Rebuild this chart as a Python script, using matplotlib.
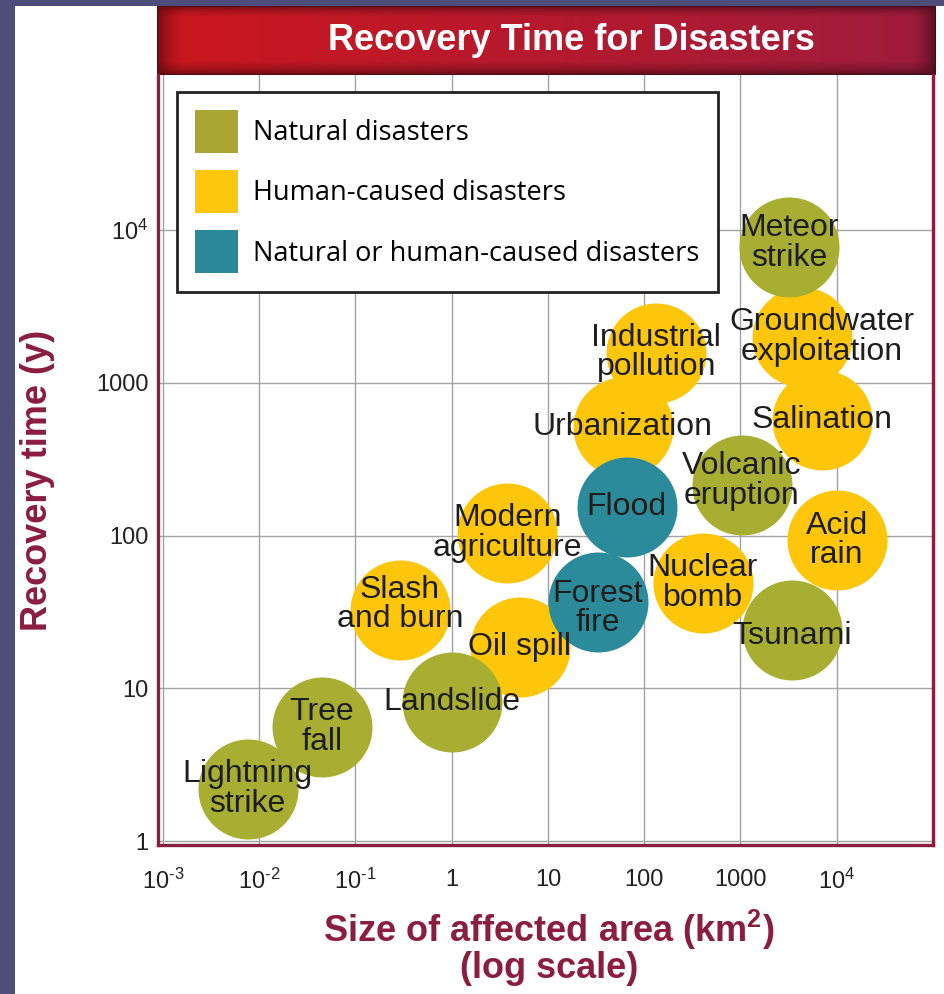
import numpy as np
import matplotlib.pyplot as plt
from matplotlib.patches import Patch, Rectangle

plt.rcParams['font.family'] = ['Liberation Sans', 'DejaVu Sans']
plt.rcParams['mathtext.default'] = 'regular'

# data (km^2, years)
names = ['Lightning\nstrike', 'Tree\nfall', 'Landslide', 'Slash\nand burn', 'Oil spill',
         'Modern\nagriculture', 'Forest\nfire', 'Flood', 'Urbanization', 'Industrial\npollution',
         'Nuclear\nbomb', 'Volcanic\neruption', 'Tsunami', 'Acid\nrain', 'Salination',
         'Groundwater\nexploitation', 'Meteor\nstrike']
area = [0.0076, 0.045, 1.0, 0.29, 5.1, 3.8, 33, 66, 60, 134,
        405, 1030, 3460, 10000, 7100, 4400, 3200]
years = [2.2, 5.6, 8.1, 32.6, 18.7, 104, 37, 154, 513, 1580,
         49, 214, 24, 93, 570, 2000, 7760]
kind = ['natural', 'natural', 'natural', 'human', 'human', 'human', 'both', 'both', 'human', 'human',
        'human', 'natural', 'natural', 'human', 'human', 'human', 'natural']

kinds = ['natural', 'human', 'both']
kind_labels = ['Natural disasters', 'Human-caused disasters', 'Natural or human-caused disasters']

x_ticks = [1e-3, 1e-2, 1e-1, 1, 10, 100, 1000, 1e4]
x_tick_labels = ['$10^{\u20103}$', '$10^{\u20102}$', '$10^{\u20101}$', '1', '10', '100', '1000', '$10^{4}$']
y_ticks = [1, 10, 100, 1000, 1e4]
y_tick_labels = ['1', '10', '100', '1000', '$10^{4}$']

colors = {'natural': '#a8ae32', 'human': '#fdc60b', 'both': '#2b8b9b'}
legend_colors = {'natural': '#aaa634', 'human': '#fcc70c', 'both': '#2a8898'}
maroon = '#8b1d3f'

# label nudges in points (x, y)
nudge = {'Groundwater\nexploitation': (14, 0), 'Forest\nfire': (0, -5), 'Tsunami': (0, -4),
         'Slash\nand burn': (0, 4), 'Volcanic\neruption': (0, 3), 'Meteor\nstrike': (0, 3)}

W, H = 945, 994
fig = plt.figure(figsize=(W / 100, H / 100), dpi=100)
fig.patch.set_facecolor('#4c4d7b')
fig.add_artist(Rectangle((15 / W, 0), (W - 15) / W, (H - 6) / H, transform=fig.transFigure,
                         facecolor='white', edgecolor='none', zorder=0))

# title banner with a dark vignette
bax = fig.add_axes([157 / W, 1 - 75 / H, (936 - 157) / W, (75 - 6) / H])
nx, ny = 780, 69
px = np.arange(nx)
py = np.arange(ny)
ex = np.clip(np.minimum(px / 25.0, (nx - 1 - px) / 25.0), 0, 1)
ey = np.clip(np.minimum(py / 10.0, (ny - 1 - py) / 14.0), 0, 1)
shade = 0.45 + 0.55 * np.sqrt(np.outer(ey, ex))
left_c = np.array([0.80, 0.09, 0.12])
right_c = np.array([0.62, 0.11, 0.24])
t = (px / (nx - 1))[None, :, None]
base = left_c * (1 - t) + right_c * t
img = base * shade[:, :, None]
bax.imshow(img, aspect='auto', interpolation='bilinear')
bax.set_axis_off()
bax.text(0.532, 0.5, 'Recovery Time for Disasters', transform=bax.transAxes, ha='center',
         va='center', color='white', fontsize=26, fontweight='bold')

ax = fig.add_axes([158 / W, 1 - 845 / H, 775 / W, 770 / H])
ax.set_xscale('log')
ax.set_yscale('log')
ax.set_xlim(10 ** -3.05, 1e5)
ax.set_ylim(10 ** -0.026, 10 ** 5.016)
ax.minorticks_off()
ax.set_xticks(x_ticks)
ax.set_xticklabels(x_tick_labels)
ax.set_yticks(y_ticks)
ax.set_yticklabels(y_tick_labels)
ax.tick_params(length=0, labelsize=17, labelcolor='#222222')
ax.tick_params(axis='x', pad=17)
ax.tick_params(axis='y', pad=7)
ax.grid(True, color='#a3a3a3', lw=1.0)
ax.set_axisbelow(True)
for side in ['left', 'bottom', 'right']:
    ax.spines[side].set_color(maroon)
    ax.spines[side].set_linewidth(2.4)
ax.spines['top'].set_visible(False)

area_a = np.array(area)
years_a = np.array(years)
kind_a = np.array(kind)
for i, k in enumerate(['human', 'both', 'natural']):
    m = kind_a == k
    ax.scatter(area_a[m], years_a[m], s=5184, color=colors[k], linewidths=0, zorder=2 + i)

for n, xv, yv in zip(names, area, years):
    dx, dy = nudge.get(n, (0, 0))
    ax.annotate(n, (xv, yv), xytext=(dx, dy), textcoords='offset points', ha='center',
                va='center', fontsize=23, linespacing=0.98, color='#1e1e1e', zorder=10)

handles = [Patch(facecolor=legend_colors[k], edgecolor='none') for k in kinds]
leg = ax.legend(handles, kind_labels, loc='upper left', bbox_to_anchor=(177 / W, 1 - 92 / H),
                bbox_transform=fig.transFigure, prop={'family': 'Open Sans', 'size': 19.5},
                frameon=True, fancybox=False, framealpha=1, edgecolor='#222222',
                borderpad=0.67, handlelength=1.59, handleheight=2.07, labelspacing=0.63,
                handletextpad=0.55, borderaxespad=0)
leg.get_frame().set_linewidth(2)
leg.set_zorder(20)

fig.text(38 / W, 1 - 480 / H, 'Recovery time (y)', rotation=90, ha='center', va='center',
         color=maroon, fontsize=26, fontweight='bold')
fig.text(549 / W, 1 - 930 / H, 'Size of affected area (km$^{2}$)', ha='center', va='center',
         color=maroon, fontsize=26, fontweight='bold')
fig.text(549 / W, 1 - 968 / H, '(log scale)', ha='center', va='center',
         color=maroon, fontsize=26, fontweight='bold')

fig.savefig('out.png', dpi=100, facecolor=fig.get_facecolor())
